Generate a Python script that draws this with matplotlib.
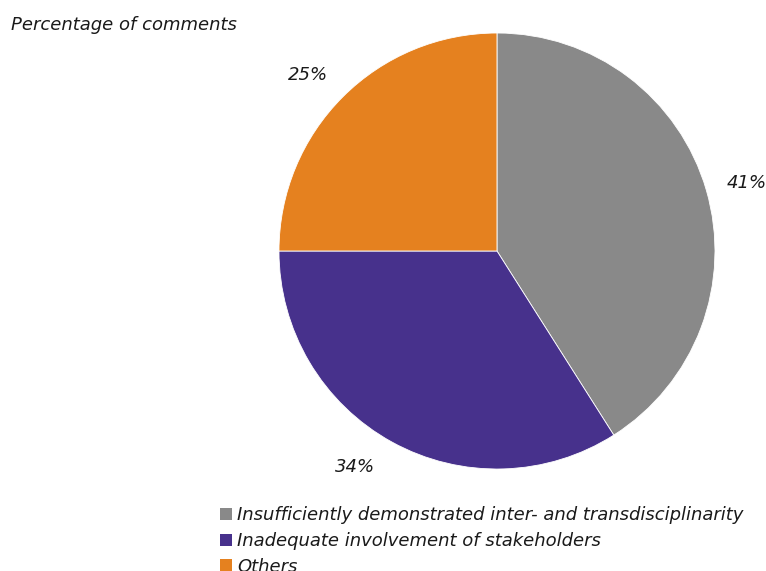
import numpy as np
import matplotlib.pyplot as plt
from matplotlib.patches import Patch

# comment categories and their shares (%)
categories = [
    "Insufficiently demonstrated inter- and transdisciplinarity",
    "Inadequate involvement of stakeholders",
    "Others",
]
shares = [41, 34, 25]
colors = ["#898989", "#47318C", "#E5811F"]

plt.rcParams["font.family"] = ["DejaVu Sans"]

fig = plt.figure(figsize=(7.66, 5.71), dpi=100)
ax = fig.add_axes([0.3642, 0.1786, 0.5692, 0.7636])

wedges, _, pct = ax.pie(
    shares,
    colors=colors,
    startangle=90,
    counterclock=False,
    autopct="%d%%",
    pctdistance=1.18,
    wedgeprops={"edgecolor": "white", "linewidth": 0.6},
)
# nudge the percentage labels a little around the rim
nudge = [-1.0, -4.5, 2.0]
for w, t, d in zip(wedges, pct, nudge):
    a = np.deg2rad((w.theta1 + w.theta2) / 2 + d)
    t.set_position((1.185 * np.cos(a), 1.185 * np.sin(a)))
    t.set_fontsize(13)
    t.set_fontstyle("italic")
    t.set_color("#1a1a1a")
ax.set_xlim(-1, 1)
ax.set_ylim(-1, 1)
ax.set_aspect("equal")

fig.text(0.014, 0.956, "Percentage of comments", fontsize=13,
         fontstyle="italic", color="#1a1a1a", va="center")

handles = [Patch(facecolor=c, edgecolor="none") for c in colors]
leg = fig.legend(handles, categories, loc="upper left",
                 bbox_to_anchor=(0.287, 0.113), frameon=False,
                 handlelength=0.65, handleheight=0.65, handletextpad=0.3,
                 labelspacing=0.42, borderpad=0, borderaxespad=0,
                 prop={"size": 13, "style": "italic"})
for t in leg.get_texts():
    t.set_color("#1a1a1a")

fig.savefig("out.png", dpi=100)
